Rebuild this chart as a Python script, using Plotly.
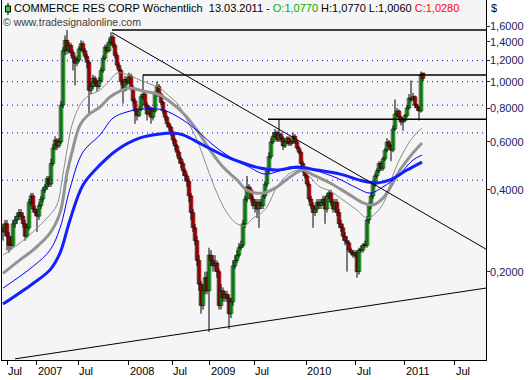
import math
import plotly.graph_objects as go

# ---------------- data (weekly bars) ----------------
closes = [0.28, 0.30, 0.27, 0.25, 0.25, 0.30, 0.31, 0.32, 0.33, 0.32,
          0.30, 0.27, 0.29, 0.36, 0.38, 0.34, 0.33, 0.32, 0.35, 0.37,
          0.40, 0.41, 0.44, 0.42, 0.50, 0.57, 0.61, 0.58, 0.60, 0.82,
          1.30, 1.42, 1.30, 1.36, 1.28, 1.22, 1.17, 1.20, 1.32, 1.38,
          1.30, 1.24, 1.18, 0.93, 0.96, 1.03, 0.99, 0.96, 1.01, 1.10,
          1.22, 1.34, 1.30, 1.40, 1.46, 1.36, 1.25, 1.15, 1.10, 1.00,
          0.93, 1.02, 0.99, 1.05, 0.95, 0.85, 0.78, 0.75, 0.79, 0.88,
          0.90, 0.82, 0.76, 0.80, 0.74, 0.78, 0.90, 0.96, 0.90, 0.84,
          0.78, 0.74, 0.70, 0.68, 0.65, 0.61, 0.58, 0.55, 0.52, 0.50,
          0.47, 0.45, 0.43, 0.38, 0.33, 0.29, 0.26, 0.22, 0.18, 0.15,
          0.17, 0.19, 0.17, 0.23, 0.22, 0.21, 0.215, 0.20, 0.15, 0.17,
          0.16, 0.165, 0.16, 0.14, 0.155, 0.21, 0.22, 0.23, 0.245, 0.25,
          0.30, 0.37, 0.41, 0.40, 0.37, 0.35, 0.36, 0.34, 0.36, 0.35,
          0.38, 0.42, 0.47, 0.53, 0.60, 0.63, 0.65, 0.61, 0.64, 0.62,
          0.58, 0.60, 0.62, 0.59, 0.60, 0.63, 0.60, 0.57, 0.55, 0.50,
          0.47, 0.45, 0.42, 0.37, 0.35, 0.33, 0.34, 0.36, 0.35, 0.36,
          0.37, 0.34, 0.38, 0.39, 0.36, 0.34, 0.36, 0.33, 0.30, 0.29,
          0.27, 0.26, 0.255, 0.24, 0.235, 0.23, 0.235, 0.20, 0.24, 0.24,
          0.25, 0.25, 0.31, 0.35, 0.38, 0.42, 0.45, 0.47, 0.50, 0.48,
          0.52, 0.56, 0.60, 0.58, 0.56, 0.67, 0.76, 0.78, 0.74, 0.71,
          0.72, 0.75, 0.80, 0.87, 0.86, 0.88, 0.82, 0.80, 0.78, 1.06, 1.028]

opens = [0.29, 0.28, 0.30, 0.27, 0.25, 0.25, 0.30, 0.31, 0.32, 0.33,
         0.32, 0.30, 0.27, 0.29, 0.36, 0.38, 0.34, 0.33, 0.32, 0.35,
         0.37, 0.40, 0.41, 0.44, 0.42, 0.50, 0.57, 0.61, 0.58, 0.60,
         0.82, 1.30, 1.42, 1.30, 1.36, 1.28, 1.22, 1.17, 1.20, 1.32,
         1.38, 1.30, 1.24, 1.18, 0.93, 0.96, 1.03, 0.99, 0.96, 1.01,
         1.10, 1.22, 1.34, 1.30, 1.40, 1.46, 1.36, 1.25, 1.15, 1.10,
         1.00, 0.93, 1.02, 0.99, 1.05, 0.95, 0.85, 0.78, 0.75, 0.79,
         0.88, 0.90, 0.82, 0.76, 0.80, 0.74, 0.78, 0.90, 0.96, 0.90,
         0.84, 0.78, 0.74, 0.70, 0.68, 0.65, 0.61, 0.58, 0.55, 0.52,
         0.50, 0.47, 0.45, 0.43, 0.38, 0.33, 0.29, 0.26, 0.22, 0.18,
         0.15, 0.17, 0.19, 0.17, 0.23, 0.22, 0.21, 0.215, 0.20, 0.15,
         0.17, 0.16, 0.165, 0.16, 0.14, 0.155, 0.21, 0.22, 0.23, 0.245,
         0.25, 0.30, 0.37, 0.41, 0.40, 0.37, 0.35, 0.36, 0.34, 0.36,
         0.35, 0.38, 0.42, 0.47, 0.53, 0.60, 0.63, 0.65, 0.61, 0.64,
         0.62, 0.58, 0.60, 0.62, 0.59, 0.60, 0.63, 0.60, 0.57, 0.55,
         0.50, 0.47, 0.45, 0.42, 0.37, 0.35, 0.33, 0.34, 0.36, 0.35,
         0.36, 0.37, 0.34, 0.38, 0.39, 0.36, 0.34, 0.36, 0.33, 0.30,
         0.29, 0.27, 0.26, 0.255, 0.24, 0.235, 0.23, 0.235, 0.20, 0.24,
         0.24, 0.25, 0.25, 0.31, 0.35, 0.38, 0.42, 0.45, 0.47, 0.50,
         0.48, 0.52, 0.56, 0.60, 0.58, 0.56, 0.67, 0.76, 0.78, 0.74,
         0.71, 0.72, 0.75, 0.80, 0.87, 0.86, 0.88, 0.82, 0.80, 0.78, 1.077]

highs = [0.30, 0.31, 0.31, 0.28, 0.27, 0.31, 0.32, 0.33, 0.34, 0.34,
         0.33, 0.31, 0.30, 0.37, 0.39, 0.39, 0.35, 0.34, 0.36, 0.38,
         0.41, 0.42, 0.45, 0.45, 0.52, 0.59, 0.63, 0.62, 0.62, 0.85,
         1.34, 1.48, 1.55, 1.40, 1.39, 1.31, 1.25, 1.24, 1.35, 1.42,
         1.41, 1.33, 1.27, 1.20, 1.00, 1.06, 1.05, 1.01, 1.04, 1.13,
         1.25, 1.37, 1.38, 1.44, 1.52, 1.49, 1.39, 1.28, 1.18, 1.12,
         1.02, 1.05, 1.04, 1.08, 1.07, 0.97, 0.87, 0.80, 0.81, 0.90,
         1.06, 0.92, 0.84, 0.82, 0.81, 0.80, 0.92, 1.00, 0.98, 0.91,
         0.85, 0.79, 0.75, 0.71, 0.69, 0.66, 0.62, 0.59, 0.56, 0.53,
         0.51, 0.48, 0.46, 0.44, 0.39, 0.34, 0.30, 0.27, 0.23, 0.185,
         0.18, 0.20, 0.20, 0.245, 0.24, 0.23, 0.23, 0.22, 0.205, 0.18,
         0.175, 0.17, 0.17, 0.165, 0.16, 0.22, 0.23, 0.24, 0.255, 0.26,
         0.31, 0.38, 0.45, 0.42, 0.41, 0.38, 0.37, 0.37, 0.37, 0.37,
         0.39, 0.43, 0.48, 0.55, 0.62, 0.65, 0.67, 0.66, 0.73, 0.65,
         0.63, 0.61, 0.63, 0.63, 0.61, 0.65, 0.64, 0.61, 0.58, 0.56,
         0.51, 0.48, 0.46, 0.43, 0.38, 0.36, 0.35, 0.37, 0.37, 0.37,
         0.38, 0.38, 0.39, 0.40, 0.40, 0.37, 0.37, 0.37, 0.34, 0.31,
         0.30, 0.28, 0.27, 0.26, 0.245, 0.24, 0.24, 0.24, 0.245, 0.25,
         0.255, 0.26, 0.32, 0.36, 0.39, 0.43, 0.46, 0.48, 0.51, 0.51,
         0.53, 0.57, 0.62, 0.61, 0.59, 0.69, 0.86, 0.80, 0.79, 0.75,
         0.73, 0.76, 0.82, 0.90, 1.01, 0.91, 0.89, 0.83, 0.81, 1.09, 1.077]

lows = [0.26, 0.27, 0.24, 0.235, 0.24, 0.245, 0.29, 0.30, 0.31, 0.31,
        0.29, 0.26, 0.265, 0.285, 0.35, 0.33, 0.32, 0.28, 0.31, 0.34,
        0.36, 0.39, 0.40, 0.41, 0.41, 0.49, 0.56, 0.56, 0.57, 0.59,
        0.80, 1.25, 1.26, 1.27, 1.24, 1.10, 0.97, 1.14, 1.18, 1.29,
        1.27, 1.21, 1.12, 0.75, 0.90, 0.94, 0.96, 0.92, 0.94, 0.99,
        1.08, 1.20, 1.27, 1.28, 1.37, 1.33, 1.22, 1.12, 1.07, 0.97,
        0.83, 0.92, 0.97, 0.98, 0.93, 0.83, 0.70, 0.72, 0.74, 0.78,
        0.86, 0.80, 0.72, 0.75, 0.70, 0.72, 0.77, 0.88, 0.88, 0.82,
        0.76, 0.72, 0.68, 0.66, 0.63, 0.59, 0.56, 0.53, 0.50, 0.48,
        0.45, 0.43, 0.41, 0.36, 0.31, 0.28, 0.25, 0.21, 0.17, 0.14,
        0.145, 0.165, 0.165, 0.12, 0.21, 0.20, 0.20, 0.19, 0.145, 0.145,
        0.155, 0.155, 0.155, 0.123, 0.135, 0.15, 0.205, 0.215, 0.225, 0.24,
        0.245, 0.29, 0.36, 0.39, 0.36, 0.34, 0.33, 0.315, 0.29, 0.34,
        0.34, 0.37, 0.41, 0.46, 0.52, 0.59, 0.62, 0.60, 0.60, 0.60,
        0.56, 0.57, 0.59, 0.58, 0.58, 0.59, 0.59, 0.56, 0.54, 0.49,
        0.46, 0.44, 0.41, 0.36, 0.34, 0.29, 0.32, 0.33, 0.34, 0.34,
        0.35, 0.30, 0.33, 0.37, 0.35, 0.33, 0.33, 0.32, 0.29, 0.28,
        0.26, 0.25, 0.20, 0.235, 0.23, 0.225, 0.225, 0.19, 0.195, 0.235,
        0.235, 0.245, 0.245, 0.30, 0.34, 0.37, 0.41, 0.44, 0.46, 0.47,
        0.47, 0.51, 0.55, 0.57, 0.51, 0.55, 0.66, 0.74, 0.72, 0.69,
        0.66, 0.71, 0.74, 0.79, 0.84, 0.85, 0.80, 0.78, 0.72, 0.77, 1.006]

bar_idx = list(range(len(closes)))

# moving averages (at sample bars)
ma_fast_x = [0, 8.5, 15, 22, 27, 29.5, 32, 34.5, 38.5, 42.5, 48.5, 53.5, 57, 61, 68.5, 73.5,
             78.5, 83.5, 87, 92, 97, 102, 107, 112, 117, 121, 125, 128.5, 132, 137, 143.5,
             149.5, 153.5, 158.5, 163.5, 170, 177, 182, 187, 191, 195, 200, 205, 209.5]
ma_fast_y = [0.230, 0.255, 0.280, 0.315, 0.352, 0.435, 0.561, 0.693, 0.821, 0.886, 0.932,
             1.014, 1.077, 1.068, 1.014, 0.981, 0.948, 0.878, 0.835, 0.723, 0.610, 0.485,
             0.389, 0.329, 0.300, 0.295, 0.315, 0.326, 0.346, 0.410, 0.461, 0.473, 0.446,
             0.410, 0.396, 0.367, 0.337, 0.315, 0.332, 0.367, 0.454, 0.547, 0.626, 0.676]

ma_mid_x = [0, 8.5, 15, 23.5, 28.5, 32, 34.5, 38.5, 42.5, 48.5, 53.5, 58.5, 63.5, 70, 78.5,
            85, 90, 97, 103.5, 110, 117, 122, 130, 137, 143.5, 150, 155, 163.5, 172, 180,
            185, 190, 193.5, 198.5, 205, 209.5]
ma_mid_y = [0.197, 0.221, 0.240, 0.277, 0.329, 0.460, 0.551, 0.693, 0.754, 0.807, 0.878,
            0.924, 0.948, 0.924, 0.893, 0.828, 0.767, 0.664, 0.561, 0.485, 0.435, 0.399,
            0.389, 0.410, 0.446, 0.473, 0.454, 0.424, 0.389, 0.358, 0.352, 0.373, 0.406,
            0.473, 0.547, 0.595]

ma_slow_x = [0, 15, 23.5, 28.5, 33.5, 40, 48.5, 55, 62, 70, 80, 90, 98.5, 105, 113.5, 122,
             131, 140, 150, 157, 167, 177, 183.5, 190, 197, 205, 209.5]
ma_slow_y = [0.174, 0.209, 0.240, 0.289, 0.405, 0.551, 0.637, 0.735, 0.774, 0.793, 0.787,
             0.723, 0.647, 0.585, 0.528, 0.490, 0.457, 0.473, 0.481, 0.469, 0.442, 0.406,
             0.389, 0.410, 0.446, 0.515, 0.537]

ma_long_x = [0, 15, 23.5, 28.5, 33.5, 40, 48.5, 57, 68.5, 78.5, 85, 90, 100, 110, 120, 128.5,
             137, 147, 157, 168.5, 180, 187, 193.5, 202, 209.5]
ma_long_y = [0.152, 0.181, 0.203, 0.234, 0.310, 0.417, 0.494, 0.561, 0.621, 0.642, 0.647,
             0.637, 0.585, 0.537, 0.502, 0.481, 0.473, 0.485, 0.473, 0.457, 0.431, 0.424,
             0.435, 0.473, 0.506]

# drawn trend lines and levels
trend_down_x = [54.5, 241.5]
trend_down_y = [1.515, 0.242]
trend_up_x = [6, 241.5]
trend_up_y = [0.0955, 0.174]
level_values = [1.55, 1.058, 0.727]
level_starts = [54.5, 70, 132.5]
dotted_levels = [1.195, 1.0, 0.82, 0.648, 0.434]

x_tick_pos = [2, 16.75, 37.5, 62.75, 84.5, 103.25, 125.5, 151.5, 176.25, 200.75, 225.75]
x_tick_text = ["Jul", "2007", "Jul", "2008", "Jul", "2009", "Jul", "2010", "Jul", "2011", "Jul"]
y_tick_vals = [1.6, 1.4, 1.2, 1.0, 0.8, 0.6, 0.4, 0.2]
y_tick_text = ["1,6000", "1,4000", "1,2000", "1,0000", "0,8000", "0,6000", "0,4000", "0,2000"]

X_RANGE = [-0.5, 241.5]
Y_RANGE = [0.0946, 1.998]

FONT = "Liberation Sans, Arial, sans-serif"

fig = go.Figure()

for lv in dotted_levels:
    fig.add_trace(go.Scatter(x=X_RANGE, y=[lv, lv], mode="lines",
                             line=dict(color="#0000dd", width=1, dash="1px,4px"),
                             hoverinfo="skip", showlegend=False))

# candle wicks
wick_x, wick_y = [], []
for i, h, l in zip(bar_idx, highs, lows):
    wick_x += [i, i, None]
    wick_y += [l, h, None]
fig.add_trace(go.Scatter(x=wick_x, y=wick_y, mode="lines",
                         line=dict(color="#000000", width=1), hoverinfo="skip",
                         showlegend=False))

# candle bodies
body_base = [min(o, c) for o, c in zip(opens, closes)]
body_len = [max(abs(c - o), 0.002) for o, c in zip(opens, closes)]
body_col = ["#33dd33" if c > o else "#ff1414" for o, c in zip(opens, closes)]
fig.add_trace(go.Bar(x=bar_idx, y=body_len, base=body_base, width=1.9,
                     marker=dict(color=body_col, line=dict(color="#000000", width=0.5)),
                     showlegend=False))

fig.add_trace(go.Scatter(x=ma_fast_x, y=ma_fast_y, mode="lines", line_shape="spline",
                         line=dict(color="#8c8c8c", width=1), showlegend=False))
fig.add_trace(go.Scatter(x=ma_mid_x, y=ma_mid_y, mode="lines", line_shape="spline",
                         line=dict(color="#939393", width=3), showlegend=False))
fig.add_trace(go.Scatter(x=ma_slow_x, y=ma_slow_y, mode="lines", line_shape="spline",
                         line=dict(color="#0000ff", width=1), showlegend=False))
fig.add_trace(go.Scatter(x=ma_long_x, y=ma_long_y, mode="lines", line_shape="spline",
                         line=dict(color="#1020ff", width=3), showlegend=False))

fig.add_trace(go.Scatter(x=trend_down_x, y=trend_down_y, mode="lines",
                         line=dict(color="#000000", width=1), showlegend=False))
fig.add_trace(go.Scatter(x=trend_up_x, y=trend_up_y, mode="lines",
                         line=dict(color="#000000", width=1), showlegend=False))
for lv, st in zip(level_values, level_starts):
    fig.add_trace(go.Scatter(x=[st, X_RANGE[1]], y=[lv, lv], mode="lines",
                             line=dict(color="#000000", width=1.5), showlegend=False))

annotations = []
for pos, txt in zip(x_tick_pos, x_tick_text):
    annotations.append(dict(x=pos, y=0, xref="x", yref="paper", text=txt, showarrow=False,
                            xanchor="left", yanchor="top", xshift=-1, yshift=-3,
                            font=dict(family=FONT, size=11, color="#000000")))
for v, txt in zip(y_tick_vals, y_tick_text):
    annotations.append(dict(x=1, y=math.log10(v), xref="paper", yref="y", text=txt,
                            showarrow=False, xanchor="left", yanchor="middle", xshift=2,
                            font=dict(family=FONT, size=11, color="#202060")))

header = ("COMMERCE RES CORP Wöchentlich&nbsp;&nbsp;13.03.2011 - "
          "<span style='color:#00b000'>O:1,0770</span> H:1,0770 L:1,0060 "
          "<span style='color:#ff0000'>C:1,0280</span>")
annotations.append(dict(x=0, y=1, xref="paper", yref="paper", text=header, showarrow=False,
                        xanchor="left", yanchor="top", xshift=10, yshift=0,
                        font=dict(family=FONT, size=11, color="#000000")))
annotations.append(dict(x=0, y=1, xref="paper", yref="paper",
                        text="© www.tradesignalonline.com", showarrow=False,
                        xanchor="left", yanchor="top", xshift=-1, yshift=-14,
                        font=dict(family=FONT, size=10.5, color="#404040")))
annotations.append(dict(x=1, y=1, xref="paper", yref="paper", text="$", showarrow=False,
                        xanchor="left", yanchor="top", xshift=3, yshift=0,
                        font=dict(family=FONT, size=11, color="#000000")))

shapes = [
    dict(type="line", xref="paper", yref="paper", xsizemode="pixel", ysizemode="pixel",
         xanchor=0, yanchor=1, x0=6, x1=6, y0=-3, y1=-15, line=dict(color="#000000", width=1)),
    dict(type="rect", xref="paper", yref="paper", xsizemode="pixel", ysizemode="pixel",
         xanchor=0, yanchor=1, x0=3.5, x1=8.5, y0=-6, y1=-12,
         fillcolor="#33cc33", line=dict(color="#000000", width=1)),
]

fig.update_layout(
    template="none",
    width=530, height=380,
    margin=dict(l=2, r=44, t=0, b=20, pad=0, autoexpand=False),
    paper_bgcolor="#ffffff", plot_bgcolor="#f5f5f5",
    showlegend=False, bargap=0,
    annotations=annotations, shapes=shapes,
    xaxis=dict(range=X_RANGE, showgrid=False, zeroline=False, tickvals=x_tick_pos,
               ticktext=[""] * len(x_tick_pos), ticks="outside", ticklen=4, tickcolor="#000000",
               showline=True, linecolor="#000000", linewidth=1, mirror=True,
               automargin=False, fixedrange=True),
    yaxis=dict(type="log", range=[math.log10(Y_RANGE[0]), math.log10(Y_RANGE[1])],
               side="right", showgrid=False, zeroline=False, tickvals=y_tick_vals,
               ticktext=[""] * len(y_tick_vals), ticks="outside", ticklen=3, tickcolor="#202060",
               showline=True, linecolor="#000000", linewidth=1, mirror=True,
               automargin=False, fixedrange=True),
)

fig.write_html("out.html", config={"displayModeBar": False, "staticPlot": True},
               post_script="document.body.style.margin='0';document.body.style.overflow='hidden';")
